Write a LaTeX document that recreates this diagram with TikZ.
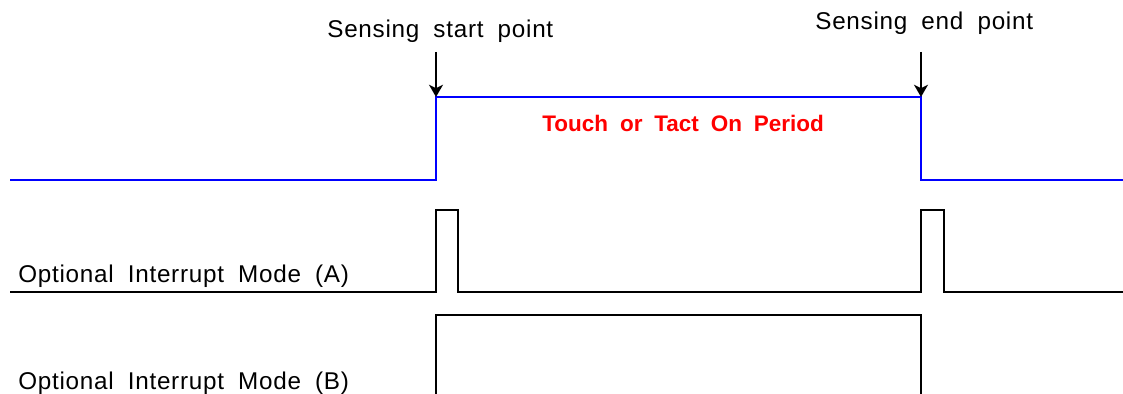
\documentclass[tikz,border=0pt]{standalone}
\usepackage{fontspec}
\setmainfont[WordSpace=1.9, LetterSpace=3]{Liberation Sans}
\newfontfamily\periodfont[WordSpace=1.9]{Liberation Sans}
\usepackage{xcolor}
\usepackage{tikz}
\usetikzlibrary{arrows.meta, positioning}

\begin{document}
\begin{tikzpicture}[x=0.02cm, y=-0.02cm,
        touch/.style={draw=blue, line width=1.1pt},
        intr/.style={draw=black, line width=1.1pt},
        pointer/.style={draw=black, line width=1.1pt, -{Stealth[length=7pt, width=8pt, inset=2pt]}},
        caption/.style={anchor=base west, inner sep=0pt, font=\fontsize{13.8}{16}\selectfont},
        period/.style={anchor=base west, inner sep=0pt, text=red, font=\periodfont\bfseries\fontsize{12.8}{15}\selectfont}]

        \useasboundingbox (0,0) rectangle (1123,394);

        % sensing signal
        \coordinate (t0) at (10,180);
        \coordinate (rise) at (436,180);
        \coordinate (riseTop) at (436,97);
        \coordinate (fallTop) at (921,97);
        \coordinate (fall) at (921,180);
        \coordinate (t1) at (1123,180);
        \draw[touch] (t0) -- (rise) -- (riseTop) -- (fallTop) -- (fall) -- (t1);

        \node[caption] (start) at (327,37.5) {Sensing start point};
        \node[caption] (end) at (815,30) {Sensing end point};
        \coordinate (startArr) at (436,52);
        \coordinate (endArr) at (921,52);
        \draw[pointer] (startArr) -- (riseTop);
        \draw[pointer] (endArr) -- (fallTop);

        \node[period] (onperiod) at (542,131.5) {Touch or Tact On Period};

        % interrupt mode A
        \coordinate (a0) at (10,292);
        \coordinate (a1) at (436,292);
        \coordinate (a2) at (436,210);
        \coordinate (a3) at (458,210);
        \coordinate (a4) at (458,292);
        \coordinate (a5) at (921,292);
        \coordinate (a6) at (921,210);
        \coordinate (a7) at (944,210);
        \coordinate (a8) at (944,292);
        \coordinate (a9) at (1123,292);
        \draw[intr] (a0) -- (a1) -- (a2) -- (a3) -- (a4) -- (a5) -- (a6) -- (a7) -- (a8) -- (a9);
        \node[caption] (modeA) at (18,283) {Optional Interrupt Mode (A)};

        % interrupt mode B
        \coordinate (b0) at (436,396);
        \coordinate (b1) at (436,315);
        \coordinate (b2) at (921,315);
        \coordinate (b3) at (921,396);
        \draw[intr] (b0) -- (b1) -- (b2) -- (b3);
        \node[caption] (modeB) at (18,390) {Optional Interrupt Mode (B)};

\end{tikzpicture}
\end{document}
